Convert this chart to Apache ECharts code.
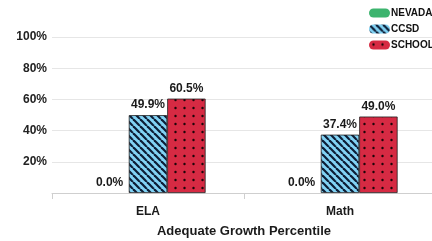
<!DOCTYPE html>
<html>
<head>
<meta charset="utf-8">
<script src="https://cdn.jsdelivr.net/npm/echarts@6/dist/echarts.min.js"></script>
<style>
  html, body { margin: 0; padding: 0; background: #fff; }
  #main { width: 432px; height: 241px; }
</style>
</head>
<body>
<div id="main"></div>
<script>
// data
var categories = ['ELA', 'Math'];
var seriesNames = ['NEVADA', 'CCSD', 'SCHOOL'];
var nevadaValues = [0.0, 0.0];
var ccsdValues = [49.9, 37.4];
var schoolValues = [60.5, 49.0];

// hatched blue for CCSD
function stripePattern() {
	var s = 7;
	var c = document.createElement('canvas');
	c.width = s; c.height = s;
	var ctx = c.getContext('2d');
	ctx.fillStyle = '#82d3f5';
	ctx.fillRect(0, 0, s, s);
	ctx.strokeStyle = '#0d1d35';
	ctx.lineWidth = 2.2;
	for (var k = -1; k <= 1; k++) {
		ctx.beginPath();
		ctx.moveTo(k * s, 0);
		ctx.lineTo(k * s + s, s);
		ctx.stroke();
	}
	return { image: c, repeat: 'repeat' };
}

// dotted red for SCHOOL
function dotPattern() {
	var w = 9, h = 8;
	var c = document.createElement('canvas');
	c.width = w; c.height = h;
	var ctx = c.getContext('2d');
	ctx.fillStyle = '#d62a43';
	ctx.fillRect(0, 0, w, h);
	ctx.fillStyle = '#1a0508';
	ctx.beginPath();
	ctx.arc(4.5, 4, 1.2, 0, Math.PI * 2);
	ctx.fill();
	return { image: c, repeat: 'repeat' };
}

var myChart = echarts.init(document.getElementById('main'));

var labelStyle = {
	show: true,
	position: 'top',
	distance: 4,
	color: '#1a1a1a',
	fontFamily: 'Liberation Sans',
	fontWeight: 'bold',
	fontSize: 12,
	formatter: function (p) {
		return p.value.toFixed(1) + '%';
	}
};

var option = {
	animation: false,
	legend: {
		orient: 'vertical',
		left: 364,
		top: 3,
		itemWidth: 21,
		itemHeight: 9,
		itemGap: 6,
		icon: 'path://M4.5,0 H16.5 A4.5,4.5 0 0 1 16.5,9 H4.5 A4.5,4.5 0 0 1 4.5,0 Z',
		itemStyle: { borderWidth: 0 },
		textStyle: {
			color: '#111',
			fontFamily: 'Liberation Sans',
			fontWeight: 'bold',
			fontSize: 10,
			padding: [0, 0, 0, -4]
		},
		data: seriesNames
	},
	grid: {
		left: 52,
		top: 37,
		width: 384,
		bottom: 48,
		containLabel: false,
		outerBoundsMode: 'none'
	},
	xAxis: {
		type: 'category',
		data: categories,
		name: 'Adequate Growth Percentile',
		nameLocation: 'middle',
		nameGap: 32,
		nameTextStyle: {
			color: '#1a1a1a',
			fontFamily: 'Liberation Sans',
			fontWeight: 'bold',
			fontSize: 13
		},
		axisLine: { lineStyle: { color: '#cfcfcf' } },
		axisTick: { show: true, length: 6, lineStyle: { color: '#cfcfcf' } },
		axisLabel: {
			margin: 13,
			color: '#1a1a1a',
			fontFamily: 'Liberation Sans',
			fontWeight: 'bold',
			fontSize: 12
		}
	},
	yAxis: {
		type: 'value',
		min: 0,
		max: 100,
		interval: 20,
		axisLine: { show: false },
		axisTick: { show: false },
		splitLine: { lineStyle: { color: '#e6e6e6' } },
		axisLabel: {
			margin: 5,
			color: '#222',
			fontFamily: 'Liberation Sans',
			fontWeight: 'bold',
			fontSize: 12,
			formatter: function (v) {
				return v === 0 ? '' : v + '%';
			}
		}
	},
	series: [
		{
			name: seriesNames[0],
			type: 'bar',
			data: nevadaValues,
			barGap: '0%',
			barCategoryGap: '40%',
			itemStyle: { color: '#3cb46e', borderWidth: 0 },
			label: labelStyle
		},
		{
			name: seriesNames[1],
			type: 'bar',
			data: ccsdValues,
			barGap: '0%',
			barCategoryGap: '40%',
			itemStyle: { color: stripePattern(), borderColor: '#222', borderWidth: 0.8 },
			label: labelStyle
		},
		{
			name: seriesNames[2],
			type: 'bar',
			data: schoolValues,
			barGap: '0%',
			barCategoryGap: '40%',
			itemStyle: { color: dotPattern(), borderColor: '#222', borderWidth: 0.8 },
			label: labelStyle
		}
	]
};

myChart.setOption(option);
</script>
</body>
</html>
